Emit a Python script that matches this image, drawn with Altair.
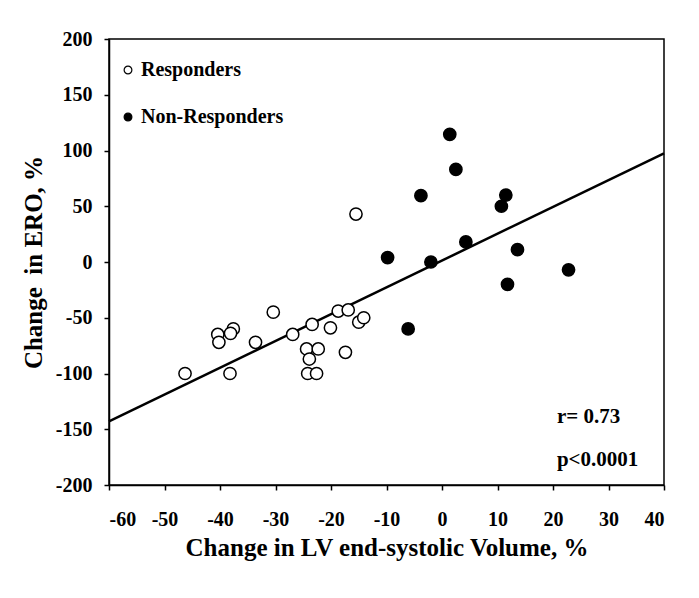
import altair as alt
import pandas as pd

# Responders (open circles)
resp_x = [-46.3, -40.4, -40.2, -37.6, -38.1, -38.2, -33.6, -30.4, -26.9, -24.4, -23.9,
          -24.2, -22.6, -22.3, -23.4, -20.1, -18.7, -16.9, -17.4, -15.0, -14.1, -15.5]
resp_y = [-100, -65, -72, -60, -64, -100, -72, -45, -65, -78, -87,
          -100, -100, -78, -56, -59, -44, -43, -81, -54, -50, 43]

# Non-responders (filled circles)
non_x = [1.4, 2.5, -3.8, 11.5, 10.7, -9.8, -2.0, 4.3, 13.6, 22.8, 11.8, -6.1]
non_y = [114.5, 83, 59.5, 60, 50, 4, 0, 18, 11, -7, -20, -60]

# Regression line end points
line_x = [-60, 40]
line_y = [-143, 97.5]

ann_text = ["r= 0.73", "p<0.0001"]
ann_x = [20.7, 20.7]
ann_y = [-144, -183]

groups = ["Responders", "Non-Responders"]

pts = pd.DataFrame({
    "x": resp_x + non_x,
    "y": resp_y + non_y,
    "group": [groups[0]] * len(resp_x) + [groups[1]] * len(non_x),
})
line_df = pd.DataFrame({"x": line_x, "y": line_y})
ann_df = pd.DataFrame({"x": ann_x, "y": ann_y, "t": ann_text})

FONT = "Liberation Serif"

xs = alt.Scale(domain=[-60, 40], nice=False, zero=False)
ys = alt.Scale(domain=[-200, 200], nice=False, zero=False)

xaxis = alt.Axis(values=list(range(-60, 41, 10)), title="Change in LV end-systolic Volume, %",
                 labelExpr="'' + datum.value",
                 labelPadding=19, titlePadding=6, grid=False)
yaxis = alt.Axis(values=list(range(-200, 201, 50)), title="Change\u00a0 in ERO, %",
                 labelExpr="'' + datum.value",
                 labelPadding=12, titlePadding=9, grid=False)

line = alt.Chart(line_df).mark_line(color="black", strokeWidth=2.5).encode(
    x=alt.X("x:Q", scale=xs, axis=xaxis),
    y=alt.Y("y:Q", scale=ys, axis=yaxis),
)

points = alt.Chart(pts).mark_point(shape="circle", filled=False, size=150, strokeWidth=1.5,
                                   stroke="black", opacity=1).encode(
    x=alt.X("x:Q", scale=xs),
    y=alt.Y("y:Q", scale=ys),
    fill=alt.Fill("group:N",
                  scale=alt.Scale(domain=groups, range=["white", "black"]),
                  legend=alt.Legend(title=None, orient="none", legendX=9, legendY=21,
                                    padding=0, symbolSize=60, symbolStrokeWidth=1.2,
                                    symbolStrokeColor="black", symbolType="circle",
                                    labelFont=FONT, labelFontWeight="bold", labelFontSize=20,
                                    labelColor="black", labelOffset=3, rowPadding=27)),
)

ann = alt.Chart(ann_df).mark_text(align="left", baseline="alphabetic", font=FONT,
                                  fontWeight="bold", fontSize=21, color="black").encode(
    x=alt.X("x:Q", scale=xs),
    y=alt.Y("y:Q", scale=ys),
    text="t:N",
)

chart = alt.layer(line, points, ann).properties(
    width=555, height=446,
    background="white",
    autosize=alt.AutoSizeParams(type="none"),
    padding={"left": 101, "top": 31, "right": 20, "bottom": 100},
).configure_view(stroke="black", strokeWidth=1.5).configure_axis(
    labelFont=FONT, labelFontWeight="bold", labelFontSize=20, labelColor="black",
    titleFont=FONT, titleFontWeight="bold", titleFontSize=25, titleColor="black",
    domainColor="black", domainWidth=1.5, tickColor="black", tickWidth=1.5, tickSize=5,
)

chart.save("out.html", embed_options={"renderer": "svg", "actions": False})
